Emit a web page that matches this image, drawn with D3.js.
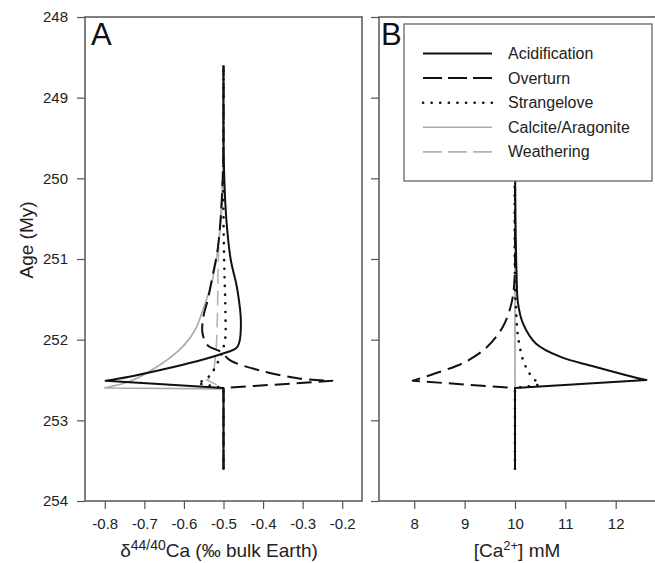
<!DOCTYPE html>
<html>
<head>
<meta charset="utf-8">
<script src="https://cdn.jsdelivr.net/npm/d3@7"></script>
<style>
body{margin:0;background:#fff;}
svg{display:block;font-family:"Liberation Sans",Arial,sans-serif;}
</style>
</head>
<body>
<svg width="655" height="563"></svg>
<script>
//every series: point 0 = before the event, point 1 = start of event, point 2 = peak
//points 2.. are the recovery and get a smooth curve

//panel A, d44/40Ca (permil bulk Earth)
var acidAgeA = [253.6, 252.6, 252.51, 252.46, 252.37, 252.27, 252.18, 252.09, 251.8, 251.38, 251.0, 250.5, 250.0, 249.5, 248.6];
var acidA = [-0.5, -0.5, -0.798, -0.738, -0.654, -0.570, -0.507, -0.465, -0.456, -0.465, -0.482, -0.493, -0.498, -0.5, -0.5];
var overAgeA = [253.6, 252.6, 252.51, 252.48, 252.4, 252.26, 252.15, 252.07, 251.92, 251.72, 251.51, 251.22, 250.89, 250.48, 250.0, 249.5, 248.6];
var overA = [-0.5, -0.5, -0.225, -0.309, -0.393, -0.482, -0.507, -0.540, -0.553, -0.551, -0.540, -0.528, -0.515, -0.507, -0.502, -0.5, -0.5];
var strangeAgeA = [253.6, 252.6, 252.54, 252.49, 252.43, 252.37, 252.31, 252.23, 252.0, 251.7, 251.1, 250.5, 248.6];
var strangeA = [-0.5, -0.5, -0.566, -0.545, -0.532, -0.524, -0.518, -0.509, -0.496, -0.495, -0.498, -0.5, -0.5];
var calcAgeA = [253.6, 252.61, 252.6, 252.52, 252.42, 252.13, 251.88, 251.6, 251.3, 250.9, 250.3, 249.8, 248.6];
var calcA = [-0.5, -0.5, -0.8, -0.738, -0.696, -0.612, -0.572, -0.55, -0.53, -0.515, -0.503, -0.5, -0.5];
var weathAgeA = [253.6, 252.6, 252.5, 252.42, 252.13, 251.59, 251.18, 250.76, 250.27, 249.7, 248.6];
var weathA = [-0.5, -0.5, -0.542, -0.528, -0.519, -0.515, -0.514, -0.511, -0.505, -0.501, -0.5];

//panel B, [Ca2+] mM
var acidAgeB = [253.6, 252.6, 252.5, 252.44, 252.33, 252.21, 252.05, 251.8, 251.55, 251.14, 250.5, 249.5, 248.6];
var acidB = [10, 10, 12.61, 12.21, 11.55, 10.89, 10.42, 10.16, 10.06, 10.03, 10.01, 10, 10];
var overAgeB = [253.6, 252.6, 252.51, 252.4, 252.29, 252.1, 251.84, 251.55, 251.26, 250.5, 248.6];
var overB = [10, 10, 7.97, 8.50, 8.97, 9.43, 9.76, 9.93, 9.99, 10, 10];
var strangeAgeB = [253.6, 252.6, 252.56, 252.42, 252.25, 251.96, 251.6, 251.3, 248.6];
var strangeB = [10, 10, 10.49, 10.29, 10.16, 10.06, 10.02, 10.0, 10];
var calcAgeB = [253.6, 252.6, 252.5, 248.6];
var calcB = [10, 10, 10, 10];
var weathAgeB = [253.6, 252.6, 252.5, 248.6];
var weathB = [10, 10, 10, 10];

//ticks
var ageTicks = [248, 249, 250, 251, 252, 253, 254];
var deltaTicks = [-0.8, -0.7, -0.6, -0.5, -0.4, -0.3, -0.2];
var caTicks = [8, 9, 10, 11, 12];
var seriesNames = ["Acidification", "Overturn", "Strangelove", "Calcite/Aragonite", "Weathering"];

//line styles, same order as seriesNames
var styles = [
	{stroke: "#111", width: 2, dash: null, cap: "butt"},
	{stroke: "#111", width: 2, dash: "15,7", cap: "butt"},
	{stroke: "#111", width: 2.6, dash: "0.1,8.5", cap: "round"},
	{stroke: "#aaa", width: 1.6, dash: null, cap: "butt"},
	{stroke: "#b3b3b3", width: 1.6, dash: "15,7", cap: "butt"}
];

var svg = d3.select("svg");
var frameColor = "#555";
var textColor = "#222";

var y = d3.scaleLinear().domain([248, 254]).range([17, 501]);
var xA = d3.scaleLinear().domain([-0.85, -0.15]).range([85, 362]);
var xB = d3.scaleLinear().domain([7.3, 12.8]).range([379, 656]);

//builds the path: straight up to the peak, smooth recovery after it
function seriesPath(xs, ages, vals){
	var pts = ages.map(function(a, i){ return [xs(vals[i]), y(a)]; });
	var lin = d3.line().curve(d3.curveLinear)(pts.slice(0, 3));
	var smooth = d3.line().curve(d3.curveCatmullRom.alpha(0.5))(pts.slice(2));
	return lin + "L" + smooth.slice(1);
}

function drawPanel(xs, list){
	//grey lines first, black on top
	var order = [3, 4, 2, 1, 0];
	order.forEach(function(k){
		var s = styles[k];
		svg.append("path")
			.attr("d", seriesPath(xs, list[k][0], list[k][1]))
			.attr("fill", "none")
			.attr("stroke", s.stroke)
			.attr("stroke-width", s.width)
			.attr("stroke-dasharray", s.dash)
			.attr("stroke-linecap", s.cap)
			.attr("stroke-linejoin", "round");
	});
}

drawPanel(xA, [[acidAgeA, acidA], [overAgeA, overA], [strangeAgeA, strangeA], [calcAgeA, calcA], [weathAgeA, weathA]]);
drawPanel(xB, [[acidAgeB, acidB], [overAgeB, overB], [strangeAgeB, strangeB], [calcAgeB, calcB], [weathAgeB, weathB]]);

//frames
svg.append("rect").attr("x", 85).attr("y", 17).attr("width", 277).attr("height", 484)
	.attr("fill", "none").attr("stroke", frameColor).attr("stroke-width", 1.5);
svg.append("rect").attr("x", 379).attr("y", 17).attr("width", 277).attr("height", 484)
	.attr("fill", "none").attr("stroke", frameColor).attr("stroke-width", 1.5);

//axes
function styleAxis(g){
	g.select(".domain").remove();
	g.selectAll(".tick line").attr("stroke", frameColor).attr("stroke-width", 1.2);
	g.selectAll(".tick text").attr("fill", textColor).style("font-size", "15px")
		.style("font-family", "'Liberation Sans', Arial, sans-serif");
}

svg.append("g").attr("transform", "translate(85,0)")
	.call(d3.axisLeft(y).tickValues(ageTicks).tickSize(8).tickPadding(9).tickFormat(d3.format("d")))
	.call(styleAxis);
svg.append("g").attr("transform", "translate(379,0)")
	.call(d3.axisLeft(y).tickValues(ageTicks).tickSize(8).tickFormat(""))
	.call(styleAxis);
svg.append("g").attr("transform", "translate(0,501)")
	.call(d3.axisBottom(xA).tickValues(deltaTicks).tickSize(8).tickPadding(9).tickFormat(function(d){ return d.toFixed(1); }))
	.call(styleAxis);
svg.append("g").attr("transform", "translate(0,501)")
	.call(d3.axisBottom(xB).tickValues(caTicks).tickSize(8).tickPadding(9).tickFormat(d3.format("d")))
	.call(styleAxis);

//axis titles
svg.append("text")
	.attr("transform", "translate(33,240) rotate(-90)")
	.attr("text-anchor", "middle")
	.attr("fill", textColor)
	.style("font-size", "19px")
	.text("Age (My)");

var tA = svg.append("text").attr("x", 219).attr("y", 557).attr("text-anchor", "middle")
	.attr("fill", textColor).style("font-size", "19px");
tA.append("tspan").text("δ");
tA.append("tspan").attr("dy", -7).style("font-size", "14px").text("44/40");
tA.append("tspan").attr("dy", 7).text("Ca (‰ bulk Earth)");

var tB = svg.append("text").attr("x", 517).attr("y", 557).attr("text-anchor", "middle")
	.attr("fill", textColor).style("font-size", "19px");
tB.append("tspan").text("[Ca");
tB.append("tspan").attr("dy", -7).style("font-size", "13px").text("2+");
tB.append("tspan").attr("dy", 7).text("] mM");

//panel letters
svg.append("text").attr("x", 91).attr("y", 45).attr("fill", "#111").style("font-size", "31px").text("A");
svg.append("text").attr("x", 381).attr("y", 45).attr("fill", "#111").style("font-size", "31px").text("B");

//legend
svg.append("rect").attr("x", 404).attr("y", 24).attr("width", 248).attr("height", 157)
	.attr("fill", "#fff").attr("stroke", "#666").attr("stroke-width", 1.3);
seriesNames.forEach(function(name, i){
	var ly = 53.5 + i * 24.6;
	var s = styles[i];
	svg.append("line")
		.attr("x1", 423).attr("x2", 492).attr("y1", ly).attr("y2", ly)
		.attr("stroke", s.stroke)
		.attr("stroke-width", s.width)
		.attr("stroke-dasharray", s.dash === "15,7" ? "19,6" : s.dash)
		.attr("stroke-linecap", s.cap);
	svg.append("text")
		.attr("x", 508).attr("y", ly + 5.5)
		.attr("fill", textColor)
		.style("font-size", "16px")
		.text(name);
});
</script>
</body>
</html>
